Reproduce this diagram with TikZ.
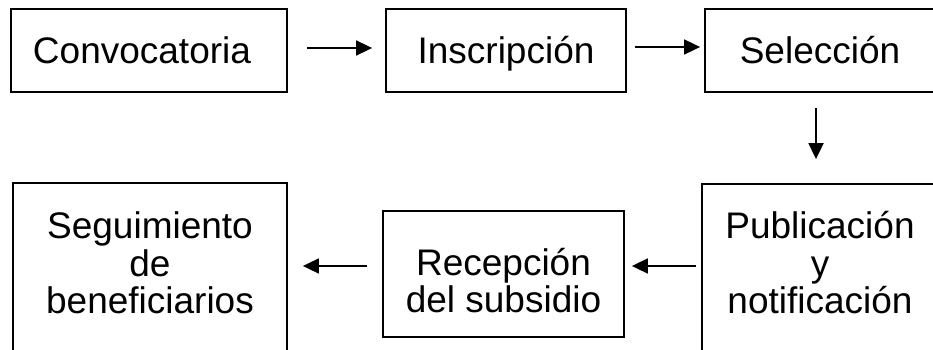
\documentclass[tikz,border=0pt]{standalone}
\usepackage{fontspec}
\setmainfont{Liberation Sans}
\usetikzlibrary{arrows.meta}
\tikzset{
  box/.style={draw=black, line width=1.8pt, inner sep=0pt, align=center,
    font=\fontsize{37}{37.5}\selectfont, text depth=0pt},
  arr/.style={line width=1.8pt, -{Triangle[length=16pt,width=15pt]}}
}
\begin{document}
\begin{tikzpicture}[x=1pt,y=-1pt]
\useasboundingbox (0,0) rectangle (933,350);
\begin{scope}
\clip (0,0) rectangle (933,350);
\node[box, text height=27pt, minimum width=276pt, minimum height=83pt] (b1) at (149,50.5) {Convocatoria\hspace*{14pt}};
\node[box, text height=27pt, minimum width=240pt, minimum height=83pt] (b2) at (506,50.5) {Inscripción};
\node[box, text height=27pt, minimum width=230pt, minimum height=83pt] (b3) at (820,50.5) {Selección};
\node[box, text height=92.2pt, minimum width=274pt, minimum height=169pt] (b4) at (150,267.5) {Seguimiento\\de\\beneficiarios};
\node[box, text height=77.2pt, minimum width=241pt, minimum height=126pt] (b5) at (503.5,274) {Recepción\\del subsidio};
\node[box, text height=91.2pt, minimum width=236pt, minimum height=168pt] (b6) at (820,268) {Publicación\\y\\notificación};
\draw[arr, shorten <=19pt, shorten >=13pt] ([yshift=2.5pt]b1.east) -- ([yshift=2.5pt]b2.west);
\draw[arr, shorten <=8pt, shorten >=4pt] ([yshift=3.5pt]b2.east) -- ([yshift=3.5pt]b3.west);
\draw[arr, shorten <=15pt, shorten >=24pt] ([xshift=-4pt]b3.south) -- ([xshift=-4pt]b6.north);
\draw[arr, shorten <=5pt, shorten >=7pt] (b6.west |- 0,266) -- (b5.east |- 0,266);
\draw[arr, shorten <=15pt, shorten >=15pt] (b5.west |- 0,266) -- (b4.east |- 0,266);
\end{scope}
\end{tikzpicture}
\end{document}
